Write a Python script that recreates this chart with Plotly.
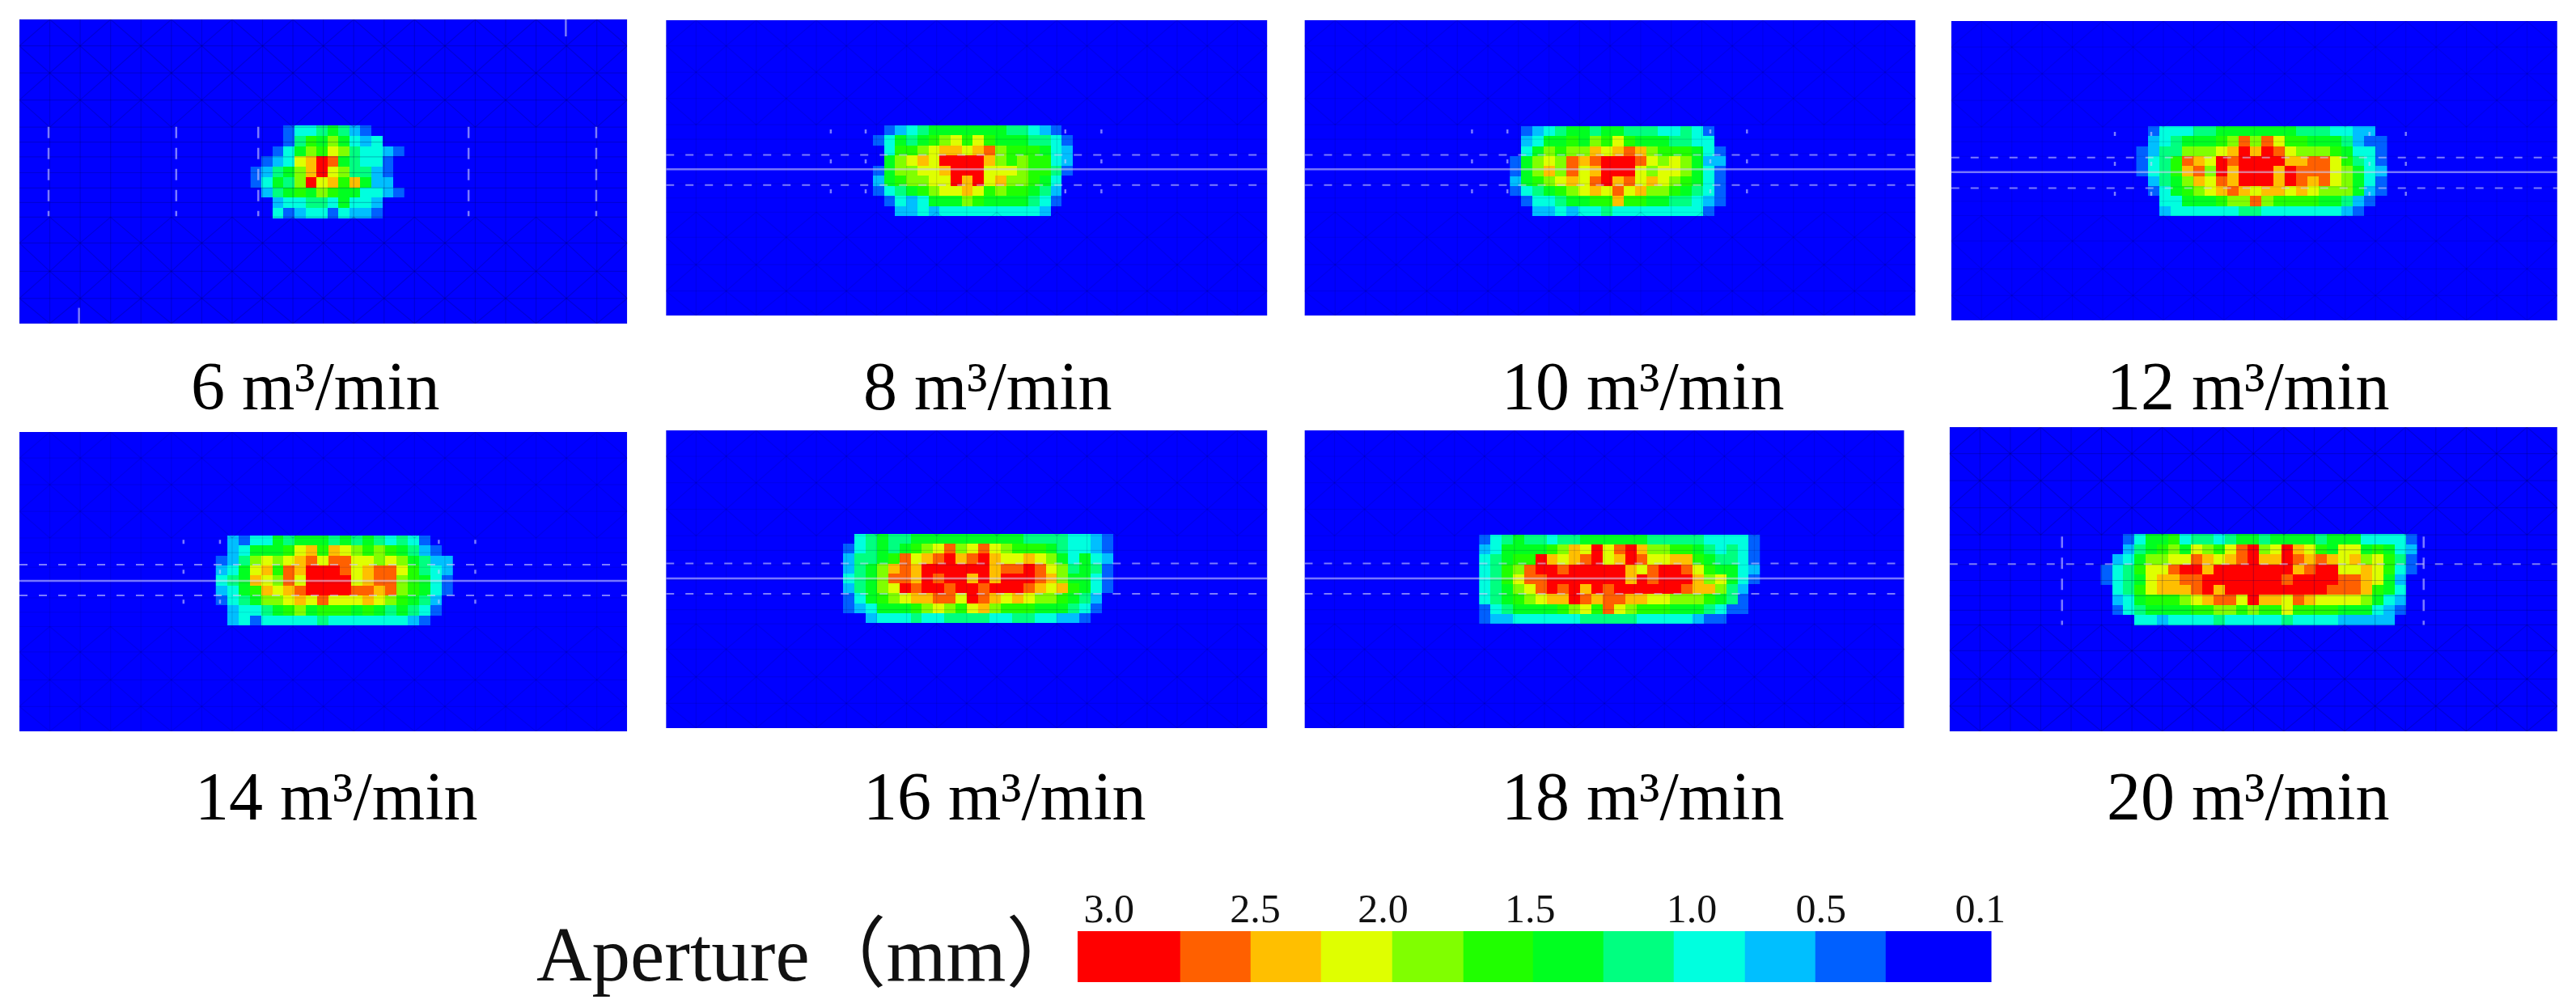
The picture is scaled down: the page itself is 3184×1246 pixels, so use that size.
import plotly.graph_objects as go

W, H = 3184, 1246
WX = 3170  # horizontal page width used for placing domains
rates = [6, 8, 10, 12, 14, 16, 18, 20]
# aperture band index per cell: 0 = below 0.1 mm (blue) ... 11 = 3.0 mm (red)
q06 = [[0,0,0,1,3,3,4,5,4,2,1,0,0,0],[0,0,0,1,4,6,5,7,5,3,2,3,0,0],[0,0,1,3,5,7,6,8,7,4,3,3,2,1],
[0,1,2,3,8,9,11,10,5,4,3,3,1,0],[1,2,4,5,7,9,11,8,7,4,4,2,1,0],[1,3,5,4,7,11,8,9,6,9,5,2,2,0],
[0,2,4,5,6,5,7,6,5,5,3,3,2,1],[0,0,2,3,3,4,4,3,5,3,3,2,0,0],[0,0,3,1,2,3,3,1,3,2,2,1,0,0]]
q08 = [[0,1,2,3,4,5,5,5,5,5,5,5,4,4,3,2,1,0],[1,3,5,4,5,6,7,8,6,8,6,5,5,5,4,4,3,1],[0,3,6,6,7,8,9,9,8,9,10,7,6,6,6,5,3,2],
[0,5,7,8,9,8,11,11,11,11,9,7,6,7,6,6,3,2],[1,5,7,7,8,8,9,11,11,11,8,8,8,7,6,6,4,1],[2,5,6,7,7,8,8,11,9,11,8,9,7,7,6,5,3,0],
[1,3,4,5,6,7,8,8,9,8,6,7,6,6,5,4,2,0],[0,1,3,2,3,5,5,5,7,6,5,5,5,5,4,3,1,0],[0,0,2,2,3,2,3,3,3,3,3,3,3,3,3,2,0,0]]
q10 = [[0,1,2,3,4,5,5,4,5,5,4,4,4,3,3,4,3,1,0],[0,2,3,5,5,6,5,7,6,8,6,5,5,5,4,4,3,3,0],[0,3,5,7,6,7,7,9,8,9,10,9,7,6,6,6,5,3,1],
[1,5,7,8,7,10,9,10,11,11,11,10,8,7,8,7,5,2,2],[1,5,7,9,7,10,8,9,11,11,11,8,7,8,8,7,5,3,1],[2,5,6,7,8,9,8,10,11,9,10,8,9,8,7,6,5,3,1],
[1,3,4,5,6,7,8,9,8,10,8,9,7,7,6,5,4,3,1],[0,1,3,3,4,5,5,6,6,9,6,6,5,5,4,4,3,2,1],[0,0,2,2,3,2,3,3,4,3,3,3,3,3,3,3,3,1,0]]
q12 = [[0,1,3,3,3,4,4,5,5,5,5,5,5,5,4,4,4,3,3,2,2,0],[0,2,3,4,5,5,5,6,7,10,7,10,8,6,6,5,5,5,4,2,1,1],[1,2,4,4,7,7,7,8,9,11,9,11,10,8,7,7,7,6,5,3,3,1],
[1,3,4,6,10,9,8,11,10,11,11,11,11,9,9,10,10,8,6,4,3,1],[1,3,4,6,9,10,7,11,9,11,11,11,9,11,10,10,10,8,7,5,3,2],[0,2,4,5,7,9,8,10,9,11,11,11,9,11,10,9,10,8,7,5,3,1],
[0,1,3,5,6,7,8,9,10,9,8,9,9,8,9,8,7,7,7,5,2,1],[0,0,3,3,5,5,5,6,7,7,10,7,6,6,6,6,5,5,4,2,1,0],[0,0,2,3,3,3,3,3,3,4,4,3,3,3,3,3,3,3,2,1,0,0]]
q14 = [[0,2,1,3,3,5,4,5,5,5,4,5,4,5,4,3,4,3,1,0,0],[0,2,3,5,5,5,6,8,9,6,9,8,7,6,7,6,5,4,2,1,0],[1,2,4,7,8,7,8,9,10,8,10,10,8,8,7,8,7,5,4,2,2],
[2,3,5,8,9,6,10,9,11,11,11,10,8,9,10,10,8,6,4,3,2],[3,4,5,9,8,7,10,8,11,11,11,11,8,9,10,10,7,6,5,3,1],[2,3,5,6,9,8,9,10,11,11,11,11,10,10,9,10,7,6,5,3,1],
[1,3,4,5,7,7,8,9,8,10,8,8,8,9,8,7,6,5,4,2,0],[0,2,3,3,4,5,6,7,5,6,6,6,5,6,5,4,5,4,3,1,0],[0,2,3,1,3,3,3,3,3,4,3,3,3,3,3,3,3,2,1,0,0]]
q16 = [[0,3,4,5,4,4,5,5,5,5,5,5,5,5,5,5,4,4,4,4,3,3,2,1],[1,3,4,5,4,5,6,7,8,10,7,8,10,8,7,6,6,6,5,4,3,3,2,1],[2,4,4,5,6,10,8,9,10,11,9,10,11,9,8,8,9,8,7,5,3,5,3,2],
[2,4,5,7,9,10,9,11,11,11,11,11,11,9,10,10,11,10,8,7,4,5,4,1],[3,4,5,7,10,10,9,11,10,11,11,9,11,9,11,11,11,10,9,7,5,5,3,1],[2,4,5,7,8,11,10,11,11,10,11,11,10,11,11,11,10,9,8,9,6,5,3,1],
[1,3,5,6,7,8,9,9,10,10,8,11,10,9,8,9,8,7,7,6,5,4,2,0],[1,2,3,5,5,5,6,7,8,7,6,8,9,7,6,6,6,5,5,5,4,3,1,0],[0,0,2,3,3,3,4,3,3,4,4,4,4,3,3,4,4,3,3,2,2,1,0,0]]
q18 = [[1,3,4,5,4,4,3,4,4,5,5,5,5,5,5,4,4,4,4,4,3,3,3,3,1],[2,3,5,5,5,5,6,7,9,8,11,8,10,11,9,7,7,6,6,5,4,3,4,3,1],[3,4,5,6,6,11,9,8,9,10,11,8,9,11,10,8,8,9,9,6,5,4,4,3,1],
[3,4,6,7,10,11,11,10,11,11,11,11,11,9,8,10,11,11,10,8,6,5,5,3,2],[3,4,6,8,10,10,11,11,11,11,11,11,11,9,11,10,11,11,11,9,7,8,5,3,1],[3,4,5,7,8,10,11,10,11,9,11,10,11,11,11,11,11,11,10,9,9,7,4,2,0],
[3,4,5,6,7,8,9,9,11,10,9,10,10,9,9,8,8,7,7,7,6,5,4,1,0],[1,3,4,5,5,5,5,6,7,8,6,10,8,7,6,6,6,5,5,5,4,3,1,1,0],[1,2,2,3,3,3,3,3,3,4,4,4,4,4,3,3,3,3,3,2,1,1,0,0,0]]
q20 = [[0,0,1,3,5,5,6,3,4,4,3,4,5,5,4,5,5,5,5,4,5,5,5,3,3,3,3,1],[0,0,2,4,5,6,7,5,8,7,6,8,10,11,7,8,11,9,8,6,5,8,8,5,6,5,3,2],[0,2,3,5,7,7,8,8,10,9,8,9,10,11,9,9,11,10,9,10,9,8,9,7,8,6,4,1],
[1,3,4,6,8,8,10,11,11,9,11,11,11,11,11,11,11,9,10,11,11,8,8,9,8,6,3,1],[1,3,4,5,8,9,9,10,10,11,11,11,11,11,11,11,10,11,11,11,11,10,10,9,8,5,2,0],[0,3,4,6,8,9,9,9,10,11,9,11,11,11,11,11,11,11,11,11,10,10,10,9,6,5,3,0],
[0,2,3,5,6,6,6,7,8,9,10,10,8,11,9,9,8,10,9,8,8,8,8,7,5,3,2,0],[0,1,3,4,5,5,5,5,6,6,7,7,6,7,6,6,8,6,6,6,6,5,5,5,3,2,1,0],[0,0,0,3,3,2,3,3,3,3,4,3,3,3,3,3,4,3,3,3,3,2,2,2,2,2,0,0]]
grids = [q06, q08, q10, q12, q14, q16, q18, q20]

band_colors = ["#0000ff","#0060ff","#00bfff","#00ffdf","#00ff80","#00ff20","#20ff00","#80ff00","#dfff00","#ffbf00","#ff6000","#ff0000"]
band_edges = [1333,1460,1547,1634,1722,1810,1897,1984,2071,2159,2246,2333,2464]
cbar_bands = [11,10,9,8,7,6,5,4,3,2,1,0]
cbar_ticks = ["3.0","2.5","2.0","1.5","1.0","0.5","0.1"]
cbar_tickpos = [1372,1553,1711,1893,2093,2253,2450]

# panel frames (image pixels)
panels = [(24,776,24,400),(824,1568,25,390),(1614,2370,25,390),(2414,3164,26,396),
          (24,776,534,904),(824,1568,532,900),(1614,2356,532,900),(2412,3164,528,904)]
# open-fracture zone frames (image pixels)
zones = [(310,500,155,270),(1080,1327,155,267),(1868,2135,156,267),(2643,2953,156,267),
         (267,560,662,773),(1043,1377,660,770),(1830,2177,661,771),(2599,2990,660,773)]
label_x = [390,1222,2033,2782,416,1243,2033,2782]
label_y = [478,478,478,478,984,984,984,984]
mesh_alpha = [.24,.13,.13,.13,.13,.13,.13,.24]
mesh_rows = [0,.087,.176,.265,.354,.403,.452,.504,.554,.602,.65,.735,.828,.917,1]
diag_rows = [0,1,2,3,10,11,12,13]
mesh_cols = 20
center_y = [None,.505,.505,.505,.497,.497,.497,None]
dash_y = [None,(.456,.558),(.456,.558),(.456,.558),(.443,.546),(.447,.549),(.447,.549),(.45,)]
vdash_x = [(.048,.258,.393,.739,.949),(.274,.332,.664,.724),(.274,.332,.664,.724),(.27,.33,.69,.75),
           (.27,.33,.69,.75),(),(),(.185,.78)]
vdash_y = [(.353,.647),(.37,.63),(.37,.63),(.37,.63),(.36,.64),(.4,.6),(.4,.6),(.36,.65)]
vdash_style = ["14px,12px","5px,32px","5px,32px","5px,32px","5px,32px","5px,32px","5px,32px","14px,12px"]
corner_marks = [((.899,0,.056),(.098,.948,1)),(),(),(),(),(),(),()]

scale = []
for i, c in enumerate(band_colors):
    scale += [[i/12, c], [(i+1)/12, c]]

fig = go.Figure()
layout = {}
for k, (x0, x1, y0, y1) in enumerate(panels):
    n = k + 1
    xa, ya = f"x{n}", f"y{n}"
    w, h = x1 - x0, y1 - y0
    layout[f"xaxis{n}"] = dict(domain=[x0/WX, x1/WX], range=[0, w], visible=False, fixedrange=True, anchor=ya)
    layout[f"yaxis{n}"] = dict(domain=[1-y1/H, 1-y0/H], range=[h, 0], visible=False, fixedrange=True, anchor=xa)
    # blue base
    fig.add_trace(go.Heatmap(z=[[0]], x=[0, w], y=[0, h], xaxis=xa, yaxis=ya, zmin=-.5, zmax=11.5,
                             colorscale=scale, showscale=False, hoverinfo="skip"))
    g = grids[k]
    zx0, zx1, zy0, zy1 = zones[k]
    dx = (zx1 - zx0) / len(g[0]); dy = (zy1 - zy0) / len(g)
    fig.add_trace(go.Heatmap(z=g, x=[zx0 - x0 + dx*(i+.5) for i in range(len(g[0]))],
                             y=[zy0 - y0 + dy*(j+.5) for j in range(len(g))],
                             xaxis=xa, yaxis=ya, zmin=-.5, zmax=11.5, colorscale=scale,
                             showscale=False, zsmooth=False, hoverinfo="skip"))
    # mesh
    mx, my = [], []
    cols = [w*i/mesh_cols for i in range(mesh_cols+1)]
    ys = [r*h for r in mesh_rows]
    for c in cols:
        mx += [c, c, None]; my += [0, h, None]
    for y in ys:
        mx += [0, w, None]; my += [y, y, None]
    for r in diag_rows:
        for i in range(mesh_cols):
            a, b = (ys[r], ys[r+1]) if (i + r) % 2 else (ys[r+1], ys[r])
            mx += [cols[i], cols[i+1], None]; my += [a, b, None]
    fig.add_trace(go.Scatter(x=mx, y=my, mode="lines", xaxis=xa, yaxis=ya, hoverinfo="skip", showlegend=False,
                             line=dict(color=f"rgba(0,0,90,{mesh_alpha[k]})", width=1.2)))
    # well-bore lines
    white = "rgba(205,205,255,0.6)"
    if center_y[k] is not None:
        fig.add_trace(go.Scatter(x=[0, w], y=[center_y[k]*h]*2, mode="lines", xaxis=xa, yaxis=ya, hoverinfo="skip",
                                 showlegend=False, line=dict(color="rgba(215,215,255,0.55)", width=2.5)))
    for f in dash_y[k] or ():
        fig.add_trace(go.Scatter(x=[0, w], y=[f*h]*2, mode="lines", xaxis=xa, yaxis=ya, hoverinfo="skip",
                                 showlegend=False, line=dict(color=white, width=2, dash="10px,14px")))
    for f in vdash_x[k]:
        fig.add_trace(go.Scatter(x=[f*w]*2, y=[vdash_y[k][0]*h, vdash_y[k][1]*h], mode="lines", xaxis=xa, yaxis=ya,
                                 hoverinfo="skip", showlegend=False, line=dict(color=white, width=2.5, dash=vdash_style[k])))
    for fx, f0, f1 in corner_marks[k]:
        fig.add_trace(go.Scatter(x=[fx*w]*2, y=[f0*h, f1*h], mode="lines", xaxis=xa, yaxis=ya, hoverinfo="skip",
                                 showlegend=False, line=dict(color=white, width=2.5)))

# colour bar
fig.add_trace(go.Heatmap(z=[cbar_bands], x=band_edges, y=[0, 1], xaxis="x9", yaxis="y9", zmin=-.5, zmax=11.5,
                         colorscale=scale, showscale=False, hoverinfo="skip"))
layout["xaxis9"] = dict(domain=[1333/WX, 2464/WX], range=[1333, 2464], side="top", anchor="y9", fixedrange=True,
                        tickmode="array", tickvals=cbar_tickpos, ticktext=cbar_ticks, ticks="", showgrid=False,
                        zeroline=False, showline=False, tickfont=dict(family="Liberation Serif", size=50, color="#111"))
layout["yaxis9"] = dict(domain=[1-1214/H, 1-1151/H], range=[0, 1], visible=False, fixedrange=True, anchor="x9")

anns = []
for r, lx, ly in zip(rates, label_x, label_y):
    anns.append(dict(text=f"{r} m³/min", x=lx/WX, y=1-ly/H, xref="paper", yref="paper", showarrow=False,
                     xanchor="center", yanchor="middle", font=dict(family="Liberation Serif", size=84, color="#000")))
anns.append(dict(text="Aperture（mm）", x=662/WX, y=1-1180/H, xref="paper", yref="paper", showarrow=False,
                 xanchor="left", yanchor="middle", font=dict(family="Liberation Serif, Noto Sans CJK SC", size=95, color="#111")))

fig.update_layout(width=W, height=H, autosize=False, margin=dict(l=0, r=0, t=0, b=0), paper_bgcolor="white",
                  plot_bgcolor="white", showlegend=False, annotations=anns, **layout)
fig.write_html("out.html", config={"displayModeBar": False, "responsive": False}, default_width=W, default_height=H,
               post_script="document.body.style.margin='0';document.documentElement.style.overflow='hidden';")
